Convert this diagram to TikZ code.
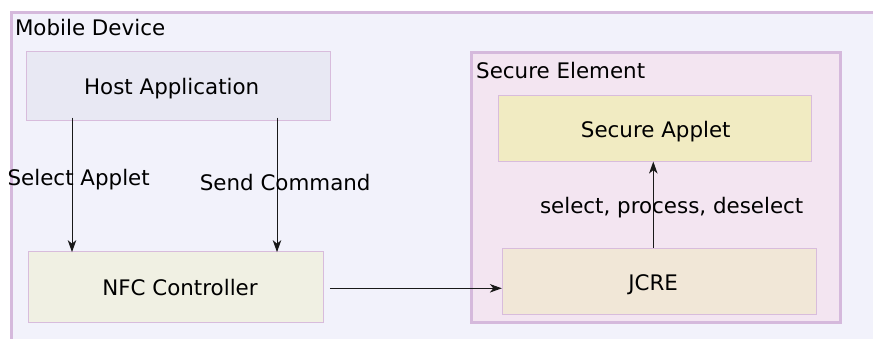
\documentclass[tikz,border=0pt]{standalone}
\usepackage{fontspec}
\setmainfont{DejaVu Sans}
\usetikzlibrary{arrows.meta}
\definecolor{outerbg}{HTML}{F2F2FB}
\definecolor{outerbd}{HTML}{D5B9DC}
\definecolor{hostbg}{HTML}{E8E8F3}
\definecolor{boxbd}{HTML}{D8BCDC}
\definecolor{nfcbg}{HTML}{F0F0E3}
\definecolor{sebg}{HTML}{F3E5F1}
\definecolor{appbg}{HTML}{F1EBC2}
\definecolor{jcrebg}{HTML}{F1E7D7}
\tikzset{
  box/.style={draw=boxbd, line width=1pt, inner sep=0pt, anchor=center,
    text height=17.7pt, text depth=0pt,
    font=\fontsize{21.4}{25}\selectfont},
  lbl/.style={inner sep=0pt, font=\fontsize{21.4}{25}\selectfont},
  arr/.style={draw=black!90, line width=1pt, -{Stealth[length=12pt,width=8.5pt,inset=3.5pt]}}
}
\begin{document}
\begin{tikzpicture}[x=1pt,y=-1pt]
\useasboundingbox (0,0) rectangle (873,338);
\fill[white] (0,0) rectangle (873,338);
\begin{scope}
\clip (0,0) rectangle (873,338);
\draw[fill=outerbg, draw=outerbd, line width=3pt] (11.5,12.5) rectangle (890,360);
\end{scope}
\node[lbl, anchor=base west] (mdl) at (14.8,35.7) {Mobile Device};
\node[box, fill=hostbg, minimum width=304pt, minimum height=68.5pt] (host) at (178,85.8) {\hspace*{-12.6pt}Host Application};
\node[box, fill=nfcbg, minimum width=295.3pt, minimum height=70.7pt] (nfc) at (175.7,287) {\hspace*{8.6pt}NFC Controller};
\node[draw=outerbd, fill=sebg, line width=3pt, minimum width=369pt, minimum height=270pt, inner sep=0pt] (se) at (655.5,187.5) {};
\node[lbl, anchor=base west] (sel) at (476,78.3) {Secure Element};
\node[box, fill=appbg, minimum width=313.4pt, minimum height=65.7pt] (app) at (655,128.2) {\hspace*{1.6pt}Secure Applet};
\node[box, fill=jcrebg, minimum width=313.7pt, minimum height=65.7pt] (jcre) at (659.2,281.2) {\hspace*{-12.2pt}JCRE};
\draw[arr] ([xshift=-106pt,yshift=3pt]host.south) -- ([xshift=-103.7pt,yshift=-1pt]nfc.north);
\draw[arr] ([xshift=99pt,yshift=3pt]host.south) -- ([xshift=101.3pt,yshift=-1pt]nfc.north);
\draw[arr] ([xshift=6pt,yshift=-1.3pt]nfc.east) -- ([yshift=-7.1pt]jcre.west);
\draw[arr] ([xshift=-5.9pt]jcre.north) -- ([xshift=-1.7pt]app.south);
\node[lbl, anchor=base] (l1) at (78.7,185) {Select Applet};
\node[lbl, anchor=base] (l2) at (285.2,190.7) {Send Command};
\node[lbl, anchor=base] (l3) at (671.7,213.3) {select, process, deselect};
\end{tikzpicture}
\end{document}
